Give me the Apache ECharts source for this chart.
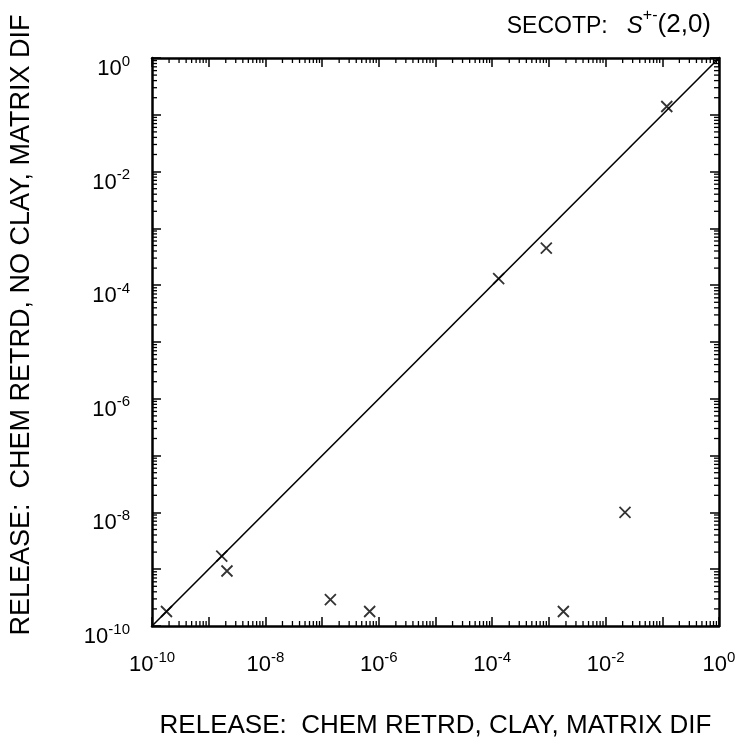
<!DOCTYPE html>
<html><head><meta charset="utf-8">
<script src="https://cdn.jsdelivr.net/npm/echarts@6/dist/echarts.min.js"></script>
<style>html,body{margin:0;padding:0;background:#fff}#c{width:752px;height:744px}</style>
</head><body><div id="c"></div>
<script>
// Data
const xVals = [1.8e-10, 1.7e-9, 2.1e-9, 1.4e-7, 6.9e-7, 1.3e-4, 9.0e-4, 1.8e-3, 0.022, 0.12];
const yVals = [1.8e-10, 1.7e-9, 9.3e-10, 2.9e-10, 1.8e-10, 1.3e-4, 4.5e-4, 1.8e-10, 1.0e-8, 0.14];
const lineX = [1e-10, 1];
const lineY = [1e-10, 1];
const axisMin = 1e-10, axisMax = 1;
const decadeStarts = [1e-10,1e-9,1e-8,1e-7,1e-6,1e-5,1e-4,1e-3,1e-2,1e-1];
const minorMultipliers = [2,3,4,5,6,7,8,9];
const xTitle = 'RELEASE:  CHEM RETRD, CLAY, MATRIX DIF';
const yTitle = 'RELEASE:  CHEM RETRD, NO CLAY, MATRIX DIF';

const minorTicks = [];
decadeStarts.forEach(d => minorMultipliers.forEach(m => minorTicks.push([m*d, m*d])));

const FONT = '"Liberation Sans", Arial, sans-serif';
const labelFmt = v => {
  const e = Math.round(Math.log10(v));
  if (e % 2 !== 0) return '';
  return '{b|10}{s|' + e + '}';
};
const rich = {
  b: {fontSize: 22, fontFamily: FONT, color: '#000', lineHeight: 26, verticalAlign: 'bottom'},
  s: {fontSize: 15, fontFamily: FONT, color: '#000', lineHeight: 16, verticalAlign: 'top'}
};
const axisBase = {
  type: 'log', logBase: 10, min: axisMin, max: axisMax, interval: 1,
  axisLine: {show: true, lineStyle: {color: '#000', width: 2.5}},
  axisTick: {show: true, inside: true, length: 9, lineStyle: {color: '#000', width: 1.5}},
  splitLine: {show: false},
  minorTick: {show: false}
};

const chart = echarts.init(document.getElementById('c'), null, {renderer: 'canvas'});
chart.setOption({
  backgroundColor: '#fff',
  animation: false,
  title: {
    text: '{n|SECOTP:   }{i|S}{u|+-}{p|(2,0)}',
    right: 36, top: 3,
    textStyle: {
      fontSize: 23, fontWeight: 'normal', fontFamily: FONT, color: '#000',
      rich: {
        n: {fontSize: 23, fontFamily: FONT, color: '#000', lineHeight: 30, verticalAlign: 'bottom'},
        i: {fontSize: 24, fontStyle: 'italic', fontFamily: FONT, color: '#000', lineHeight: 30, verticalAlign: 'bottom'},
        u: {fontSize: 16, fontFamily: FONT, color: '#000', lineHeight: 16, verticalAlign: 'top'},
        p: {fontSize: 26, fontFamily: FONT, color: '#000', lineHeight: 30, verticalAlign: 'bottom'}
      }
    }
  },
  grid: {left: 149, right: 33, top: 58, bottom: 115, containLabel: false},
  xAxis: [
    Object.assign({}, axisBase, {
      position: 'bottom',
      name: xTitle, nameLocation: 'middle', nameGap: 87,
      nameTextStyle: {fontSize: 26, fontFamily: FONT, color: '#000'},
      axisLabel: {show: true, margin: 24, formatter: labelFmt, rich: rich}
    }),
    Object.assign({}, axisBase, {position: 'top', axisLabel: {show: false}})
  ],
  yAxis: [
    Object.assign({}, axisBase, {
      position: 'left',
      name: yTitle, nameLocation: 'middle', nameGap: 117,
      nameTextStyle: {fontSize: 27, fontFamily: FONT, color: '#000', padding: [0, 0, 0, 34]},
      axisLabel: {show: true, margin: 22, formatter: labelFmt, rich: rich, padding: [18, 0, 0, 0]}
    }),
    Object.assign({}, axisBase, {position: 'right', axisLabel: {show: false}})
  ],
  series: [
    {
      type: 'line', data: lineX.map((x, i) => [x, lineY[i]]),
      showSymbol: false, lineStyle: {color: '#000', width: 1.6}, silent: true
    },
    {
      type: 'scatter', data: xVals.map((x, i) => [x, yVals[i]]),
      symbol: 'path://M0,0L10,10M10,0L0,10', symbolSize: 11,
      itemStyle: {color: 'rgba(0,0,0,0)', borderColor: '#000', borderWidth: 1.8}
    },
    {
      type: 'custom', data: minorTicks, clip: false, silent: true,
      renderItem: function (params, api) {
        const v = api.value(0);
        const b = api.coord([v, axisMin]);
        const t = api.coord([v, axisMax]);
        const l = api.coord([axisMin, v]);
        const r = api.coord([axisMax, v]);
        const L = 5, st = {stroke: '#000', lineWidth: 1.3};
        return {
          type: 'group',
          children: [
            {type: 'line', shape: {x1: b[0], y1: b[1], x2: b[0], y2: b[1] - L}, style: st},
            {type: 'line', shape: {x1: t[0], y1: t[1], x2: t[0], y2: t[1] + L}, style: st},
            {type: 'line', shape: {x1: l[0], y1: l[1], x2: l[0] + L, y2: l[1]}, style: st},
            {type: 'line', shape: {x1: r[0], y1: r[1], x2: r[0] - L, y2: r[1]}, style: st}
          ]
        };
      }
    }
  ]
});
</script></body></html>
